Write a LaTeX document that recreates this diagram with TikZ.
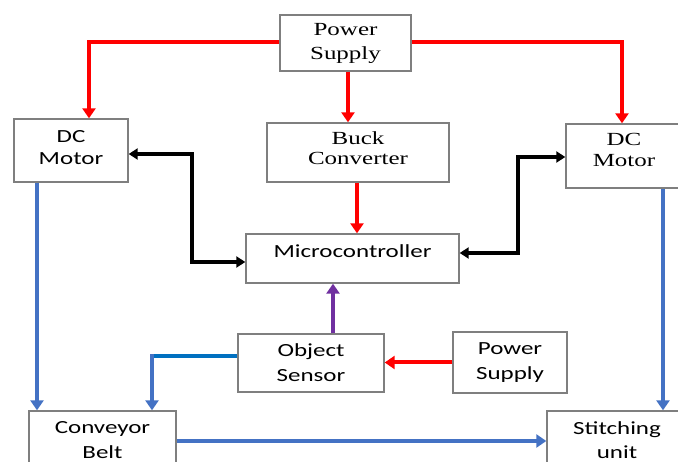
\documentclass[tikz,border=0pt]{standalone}
\usepackage{fontspec}
\setmainfont{Liberation Serif}
\newfontfamily\serifA[FakeStretch=1.35]{Liberation Serif}
\newfontfamily\sansA[FakeStretch=1.35]{Carlito}
\usetikzlibrary{arrows.meta}
\definecolor{boxgray}{HTML}{7F7F7F}
\definecolor{pwred}{HTML}{FF0000}
\definecolor{mblue}{HTML}{4472C4}
\definecolor{dblue}{HTML}{0070C0}
\definecolor{sigpurple}{HTML}{7030A0}
% two-line label, raised by #1 without changing its box, line distance #2
\newcommand\twoln[4]{\raisebox{#1}[\height][\depth]{\fontsize{18.5}{#2}\selectfont\begin{tabular}{@{}c@{}}#3\\#4\end{tabular}}}
\begin{document}
\begin{tikzpicture}[x=1pt,y=-1pt,
  box/.style={draw=boxgray,line width=1.4pt,inner sep=0pt,align=center,fill=white},
  sbox/.style={box,font=\sansA\fontsize{18.5}{24}\selectfont},
  tbox/.style={box,font=\serifA\fontsize{18.5}{22.5}\selectfont},
  tip/.style={-{Triangle[length=10pt,width=13pt]}},
  pw/.style={draw=pwred,line width=4pt,tip},
  ctl/.style={draw=black,line width=4.5pt,{Triangle[length=9pt,width=11pt]}-{Triangle[length=9pt,width=11pt]}},
  mech/.style={draw=mblue,line width=3.8pt,tip},
  sig/.style={draw=sigpurple,line width=4pt,tip}]
\useasboundingbox (0,0) rectangle (678,462);
\clip (0,0) rectangle (678,462);
\fill[white] (0,0) rectangle (678,462);

\node[tbox,minimum width=131pt,minimum height=56pt] (ps1) at (345.5,43) {\twoln{0.2pt}{24}{Power}{Supply}};
\node[sbox,minimum width=114pt,minimum height=63pt] (dcl) at (71,150.5) {\twoln{0.9pt}{22}{DC}{Motor}};
\node[tbox,minimum width=182pt,minimum height=59pt] (buck) at (358,152.5) {\twoln{2.2pt}{20.5}{Buck}{Converter}};
\node[tbox,minimum width=116pt,minimum height=64pt] (dcr) at (624,156) {\twoln{4.2pt}{20.5}{DC}{Motor}};
\node[sbox,minimum width=213pt,minimum height=49pt] (mcu) at (352.5,258.5) {\raisebox{7pt}[\height][\depth]{Microcontroller}};
\node[sbox,minimum width=146pt,minimum height=58pt] (os) at (311,363) {\twoln{-1.1pt}{25.5}{Object}{Sensor}};
\node[sbox,minimum width=114pt,minimum height=61pt] (ps2) at (510,362.5) {\twoln{0pt}{25}{Power}{Supply}};
\node[sbox,minimum width=147pt,minimum height=60pt] (cb) at (102.5,441) {\twoln{-0.5pt}{25}{Conveyor}{Belt}};
\node[sbox,minimum width=140pt,minimum height=58pt] (su) at (617,440) {\twoln{-1.8pt}{24.5}{Stitching}{unit}};

\coordinate (jl) at (192,0);
\coordinate (jr) at (518,0);
\coordinate (jb) at (152,0);

% power lines
\draw[pw] ([yshift=1pt]ps1.west) -| ([xshift=18pt]dcl.north);
\draw[pw] ([yshift=1pt]ps1.east) -| ([xshift=-2pt]dcr.north);
\draw[pw] ([xshift=2.5pt]ps1.south) -- ([xshift=2.5pt]ps1.south |- buck.north);
\draw[pw] ([xshift=-1pt]buck.south) -- ([xshift=-1pt]buck.south |- mcu.north);
\draw[pw] (ps2.west) -- (os.east |- ps2.west);

% control lines
\draw[ctl] ([yshift=-3.5pt]dcl.east) -- ([yshift=-3.5pt]dcl.east -| jl) -- ([yshift=-3.5pt]mcu.west -| jl) -- ([yshift=-3.5pt]mcu.west);
\draw[ctl] ([yshift=-1pt]dcr.west) -- ([yshift=-1pt]dcr.west -| jr) -- ([yshift=5.5pt]mcu.east -| jr) -- ([yshift=5.5pt]mcu.east);

% sensor signal
\draw[sig] ([xshift=22pt]os.north) -- ([xshift=22pt]os.north |- mcu.south);

% mechanical lines
\coordinate (bc) at ([yshift=7pt]os.west -| jb);
\draw[draw=dblue,line width=3.8pt] ([yshift=7pt]os.west) -- ([xshift=-1.9pt]bc);
\draw[mech] ([yshift=1.9pt]bc) -- (bc |- cb.north);
\draw[mech] ([xshift=-34pt]dcl.south) -- ([xshift=-34pt]dcl.south |- cb.north);
\draw[mech] ([xshift=39pt]dcr.south) -- ([xshift=39pt]dcr.south |- su.north);
\draw[mech] (cb.east) -- (su.west |- cb.east);
\end{tikzpicture}
\end{document}
